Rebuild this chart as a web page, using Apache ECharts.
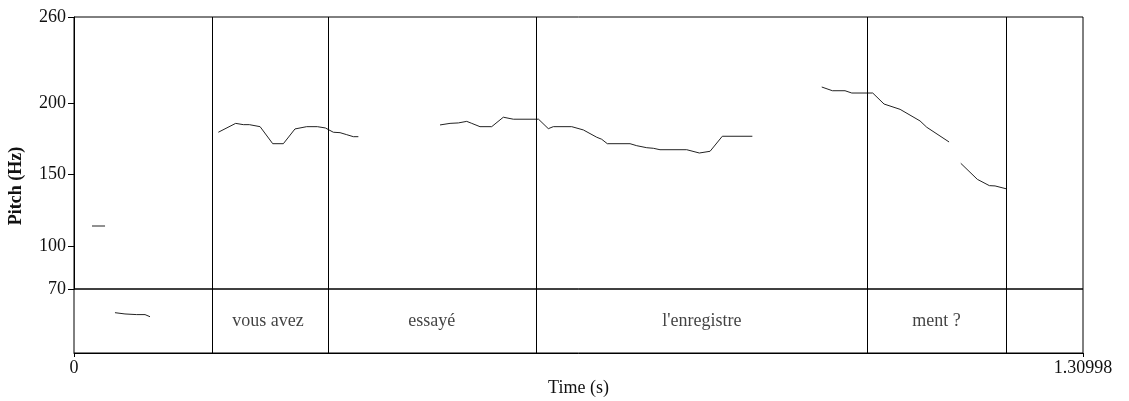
<!DOCTYPE html>
<html>
<head>
<meta charset="utf-8">
<script src="https://cdn.jsdelivr.net/npm/echarts@6/dist/echarts.min.js"></script>
<style>html,body{margin:0;padding:0;background:#fff;}#c{width:1129px;height:401px;}</style>
</head>
<body>
<div id="c"></div>
<script>
// ---- data ----
const tMax = 1.30998;
const yTicks = [70, 100, 150, 200, 260];
const xTicks = [0, 1.30998];
const boundaries = [0, 0.1779, 0.3259, 0.6033, 1.0270, 1.2127, 1.30998];
const tierLabels = ["", "vous avez", "essayé", "l'enregistre", "ment ?", ""];
const seg1 = [[0.0234, 114], [0.0403, 114]];
const seg2 = [[0.1874,179.5],[0.2099,185.7],[0.2198,184.8],[0.2276,184.8],[0.2416,183.4],[0.2580,171.5],[0.2718,171.5],[0.2869,181.8],[0.3021,183.4],[0.3159,183.4],[0.3263,182.5],[0.3367,179.5],[0.3454,179.2],[0.3541,177.8],[0.3627,176.4],[0.3692,176.4]];
const seg3 = [[0.4752,184.6],[0.4882,185.7],[0.4990,186.0],[0.5099,187.1],[0.5164,185.7],[0.5271,183.4],[0.5423,183.4],[0.5574,190.0],[0.5704,188.6],[0.6031,188.6],[0.6158,182.0],[0.6223,183.4],[0.6462,183.4],[0.6613,181.1],[0.6787,176.0],[0.6851,174.6],[0.6924,171.5],[0.7219,171.5],[0.7306,170.1],[0.7436,168.7],[0.7521,168.3],[0.7608,167.3],[0.7955,167.3],[0.8119,165.0],[0.8258,166.2],[0.8417,176.7],[0.8807,176.7]];
const seg4 = [[0.9708,211.1],[0.9846,208.5],[1.0010,208.5],[1.0098,206.9],[1.0370,206.9],[1.0517,199.2],[1.0725,195.5],[1.0984,187.4],[1.1071,183.0],[1.1361,172.7]];
const seg5 = [[1.1513,157.8],[1.1728,146.6],[1.1884,142.2],[1.1958,142.0],[1.2110,139.9]];
const tierStroke = [[0.0532,0.63],[0.0662,0.61],[0.0814,0.60],[0.0922,0.60],[0.0987,0.567]];

// ---- chart ----
const FONT = "'Liberation Serif', 'DejaVu Serif', serif";
const chart = echarts.init(document.getElementById('c'), null, {renderer: 'canvas'});
const innerBounds = boundaries.slice(1, -1);
const tierPoints = [];
for (let i = 0; i < tierLabels.length; i++) {
  if (tierLabels[i]) tierPoints.push({value: [(boundaries[i] + boundaries[i+1]) / 2, 0.5], label: tierLabels[i]});
}
const bLines = innerBounds.map(v => ({xAxis: v}));
const pitchStyle = {color: '#222', width: 1};
function pitchSeries(d) {
  return {type: 'line', xAxisIndex: 0, yAxisIndex: 0, data: d, showSymbol: false, symbol: 'none',
    lineStyle: pitchStyle, silent: true, z: 3};
}
chart.setOption({
  animation: false,
  textStyle: {fontFamily: FONT},
  grid: [
    {left: 74, right: 46, top: 17, height: 272, show: true, borderColor: '#000', borderWidth: 1, backgroundColor: 'transparent'},
    {left: 74, right: 46, top: 289, height: 64, show: true, borderColor: '#000', borderWidth: 1, backgroundColor: 'transparent'}
  ],
  xAxis: [
    {type: 'value', gridIndex: 0, min: 0, max: tMax, show: false, splitLine: {show: false}},
    {type: 'value', gridIndex: 1, min: 0, max: tMax,
      axisLine: {show: true, onZero: false, lineStyle: {color: '#000', width: 1}},
      axisTick: {show: true, length: 4, customValues: xTicks, lineStyle: {color: '#000'}},
      axisLabel: {show: true, customValues: xTicks, margin: 6, color: '#111', fontSize: 18, fontFamily: FONT,
        formatter: v => (Math.abs(v - tMax) < 1e-6 ? '1.30998' : String(v))},
      splitLine: {show: false},
      name: 'Time (s)', nameLocation: 'middle', nameGap: 26,
      nameTextStyle: {color: '#111', fontSize: 18, fontFamily: FONT}}
  ],
  yAxis: [
    {type: 'value', gridIndex: 0, min: 70, max: 260,
      axisLine: {show: true, lineStyle: {color: '#000', width: 1}},
      axisTick: {show: true, length: 6, customValues: yTicks, lineStyle: {color: '#000'}},
      axisLabel: {show: true, customValues: yTicks, margin: 8, color: '#111', fontSize: 18, fontFamily: FONT},
      splitLine: {show: false}},
    {type: 'value', gridIndex: 1, min: 0, max: 1, show: false, splitLine: {show: false}}
  ],
  graphic: [
    {type: 'text', x: 16, y: 186, rotation: Math.PI / 2,
      style: {text: 'Pitch (Hz)', fill: '#111', font: 'bold 18px ' + FONT, align: 'center', verticalAlign: 'middle'}}
  ],
  series: [
    {type: 'line', xAxisIndex: 0, yAxisIndex: 0, data: [], silent: true,
      markLine: {silent: true, symbol: 'none', label: {show: false}, lineStyle: {color: '#000', width: 1, type: 'solid'}, data: bLines}},
    pitchSeries(seg1), pitchSeries(seg2), pitchSeries(seg3), pitchSeries(seg4), pitchSeries(seg5),
    {type: 'line', xAxisIndex: 1, yAxisIndex: 1, data: tierStroke, showSymbol: false, symbol: 'none', lineStyle: pitchStyle, silent: true},
    {type: 'scatter', xAxisIndex: 1, yAxisIndex: 1, data: tierPoints, symbolSize: 0, silent: true,
      label: {show: true, position: 'inside', formatter: p => p.data.label, color: '#111', fontSize: 18, fontFamily: FONT},
      markLine: {silent: true, symbol: 'none', label: {show: false}, lineStyle: {color: '#000', width: 1, type: 'solid'}, data: bLines}}
  ]
});
</script>
</body>
</html>
